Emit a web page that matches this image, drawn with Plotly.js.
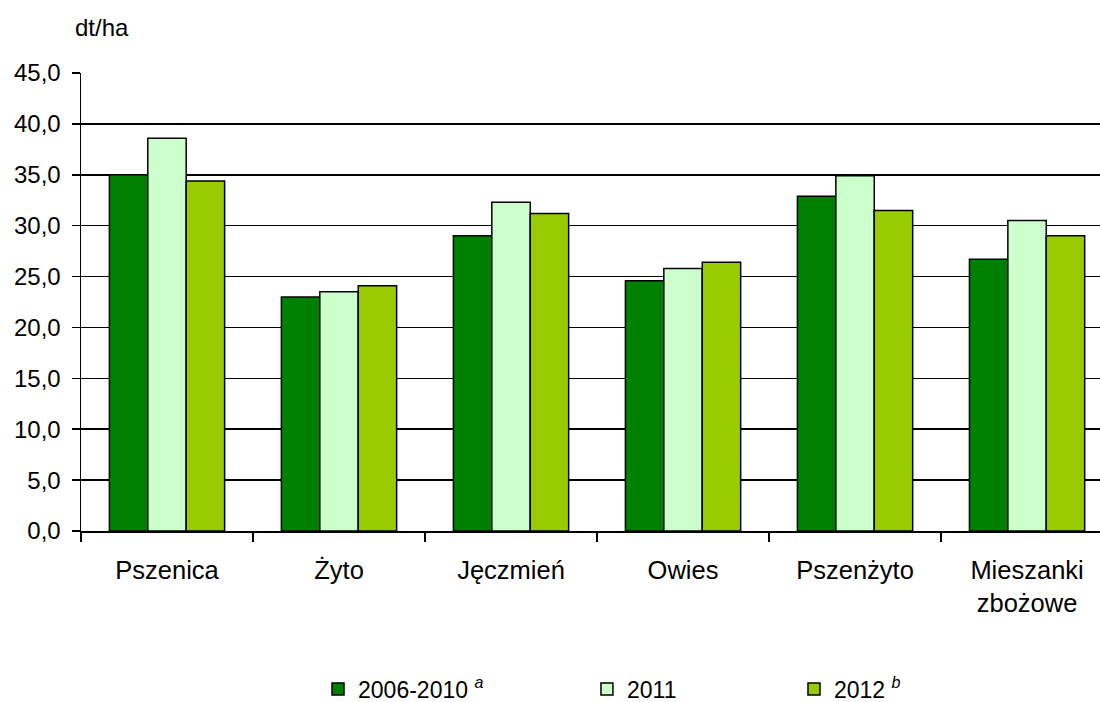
<!DOCTYPE html>
<html>
<head>
<meta charset="utf-8">
<script src="https://cdn.plot.ly/plotly-3.0.1.min.js"></script>
<style>html,body{margin:0;padding:0;background:#fff;}#chart{width:1100px;height:702px;}</style>
</head>
<body>
<div id="chart"></div>
<script>
const categories = ["Pszenica", "Żyto", "Jęczmień", "Owies", "Pszenżyto", "Mieszanki<br>zbożowe"];
const series2006_2010 = [35.0, 23.0, 29.0, 24.6, 32.9, 26.7];
const series2011 = [38.6, 23.5, 32.3, 25.8, 34.9, 30.5];
const series2012 = [34.4, 24.1, 31.2, 26.4, 31.5, 29.0];
const seriesNames = ["2006-2010 <sup><i>a</i></sup>", "2011", "2012 <sup><i>b</i></sup>"];
const yTicks = [0, 5, 10, 15, 20, 25, 30, 35, 40, 45];

const FONT = "Liberation Sans, Arial, sans-serif";
const colors = ["#008000", "#CCFFCC", "#99CC00"];
const allSeries = [series2006_2010, series2011, series2012];
const legendIds = ["legend", "legend2", "legend3"];

const traces = allSeries.map((vals, i) => ({
  type: "bar",
  x: categories,
  y: vals,
  name: seriesNames[i],
  legend: legendIds[i],
  marker: {color: colors[i], line: {color: "#000", width: 1.5}},
  hoverinfo: "skip"
}));

function legendAt(xc) {
  return {
    xref: "container", yref: "container",
    x: xc, xanchor: "left", y: 0.0185, yanchor: "middle",
    orientation: "h", font: {family: FONT, size: 23, color: "#000"},
    bgcolor: "rgba(0,0,0,0)", itemwidth: 30
  };
}

const layout = {
  width: 1100, height: 702,
  margin: {l: 81, r: 0, t: 73, b: 171, pad: 0, autoexpand: false},
  paper_bgcolor: "#fff", plot_bgcolor: "#fff",
  separators: ", ",
  font: {family: FONT, size: 24, color: "#000"},
  barmode: "group", bargap: 0.33, bargroupgap: 0,
  showlegend: true,
  legend: legendAt(0.2891),
  legend2: legendAt(0.5336),
  legend3: legendAt(0.7218),
  xaxis: {
    type: "category",
    range: [-0.5, 5.424],
    showline: true, linecolor: "#000", linewidth: 1.5,
    ticks: "outside", tickson: "boundaries", ticklen: 9, tickcolor: "#000", tickwidth: 1.5,
    showgrid: false, zeroline: false,
    ticklabelstandoff: 16,
    tickfont: {family: FONT, size: 25.5, color: "#000"}
  },
  yaxis: {
    range: [0, 45],
    tickvals: yTicks, tickformat: ".1f",
    showline: true, linecolor: "#000", linewidth: 1.5,
    ticks: "outside", ticklen: 8, tickcolor: "#000", tickwidth: 1.5,
    showgrid: true, gridcolor: "#000", gridwidth: 1.6,
    zeroline: false,
    ticklabelstandoff: 6,
    tickfont: {family: FONT, size: 24, color: "#000"}
  },
  annotations: [{
    text: "dt/ha", xref: "paper", yref: "paper",
    x: -0.0079, xanchor: "left", y: 1.1, yanchor: "middle",
    showarrow: false, font: {family: FONT, size: 24, color: "#000"}
  }]
};

Plotly.newPlot("chart", traces, layout, {staticPlot: true, displayModeBar: false});
</script>
</body>
</html>
